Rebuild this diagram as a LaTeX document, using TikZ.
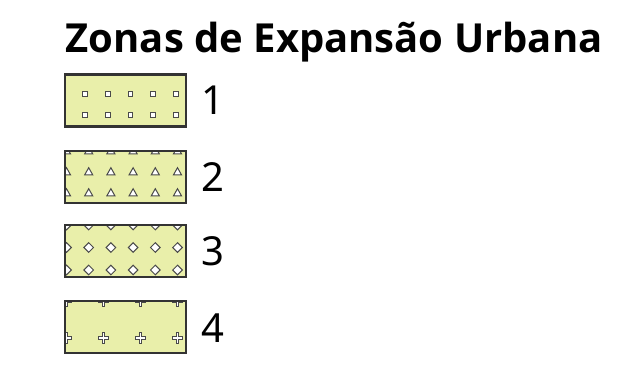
\documentclass[tikz,border=0pt]{standalone}
\usepackage{fontspec}
\setmainfont{Noto Sans}
\newfontfamily\titlefont{Open Sans}
\definecolor{zonefill}{HTML}{E9EFAA}
\definecolor{zoneline}{HTML}{333333}
\definecolor{markline}{HTML}{4A4A4A}
\begin{document}
\begin{tikzpicture}[x=1pt,y=-1pt,
  zone/.style={fill=zonefill,draw=none,minimum width=121pt,minimum height=52pt,inner sep=0pt,outer sep=0pt},
  zoneborder/.style={draw=zoneline,line width=2.2pt},
  mk/.style={fill=white,draw=markline,line width=1pt,line join=miter},
  lbl/.style={anchor=west,inner sep=0pt,font=\fontsize{40}{40}\selectfont}]
\useasboundingbox (0,0) rectangle (631,383);
\node[anchor=base west,inner sep=0pt,font=\titlefont\bfseries\fontsize{40}{40}\selectfont] (title) at (65.5,52.3) {Zonas de Expansão Urbana};
% zone 1
\node[zone] (z1) at (125.5,100.5) {};
\foreach \x in {85,108,130.5,153,176}{\foreach \y in {94,115}{
  \draw[mk] (\x-2.4,\y-2.4) rectangle (\x+2.4,\y+2.4);}}
\draw[zoneborder] (z1.north west) rectangle (z1.south east);
\node[lbl] (l1) at (201,100.5) {1};
% zone 2
\node[zone] (z2) at (125.5,177) {};
\begin{scope}
\clip (z2.north west) rectangle (z2.south east);
\foreach \x in {66.5,88.7,110.9,133.1,155.3,177.5}{\foreach \y in {150.5,171.5,192.5}{
  \draw[mk] (\x-4,\y+3.3) -- (\x,\y-3.8) -- (\x+4,\y+3.3) -- cycle;}}
\end{scope}
\draw[zoneborder] (z2.north west) rectangle (z2.south east);
\node[lbl] (l2) at (201,177) {2};
% zone 3
\node[zone] (z3) at (125.5,251) {};
\begin{scope}
\clip (z3.north west) rectangle (z3.south east);
\foreach \x in {66.5,88.7,110.9,133.1,155.3,177.5}{\foreach \y in {225,247.5,270}{
  \draw[mk] (\x-4.8,\y) -- (\x,\y-4.8) -- (\x+4.8,\y) -- (\x,\y+4.8) -- cycle;}}
\end{scope}
\draw[zoneborder] (z3.north west) rectangle (z3.south east);
\node[lbl] (l3) at (201,251) {3};
% zone 4
\node[zone] (z4) at (125.5,327) {};
\begin{scope}
\clip (z4.north west) rectangle (z4.south east);
\foreach \x in {66.5,103.5,140.5,177.5}{\foreach \y in {301,338}{
  \draw[mk] (\x-1.4,\y-5.2) -- (\x+1.4,\y-5.2) -- (\x+1.4,\y-1.4) -- (\x+5.2,\y-1.4) -- (\x+5.2,\y+1.4) -- (\x+1.4,\y+1.4) -- (\x+1.4,\y+5.2) -- (\x-1.4,\y+5.2) -- (\x-1.4,\y+1.4) -- (\x-5.2,\y+1.4) -- (\x-5.2,\y-1.4) -- (\x-1.4,\y-1.4) -- cycle;}}
\end{scope}
\draw[zoneborder] (z4.north west) rectangle (z4.south east);
\node[lbl] (l4) at (201,328) {4};
\end{tikzpicture}
\end{document}
